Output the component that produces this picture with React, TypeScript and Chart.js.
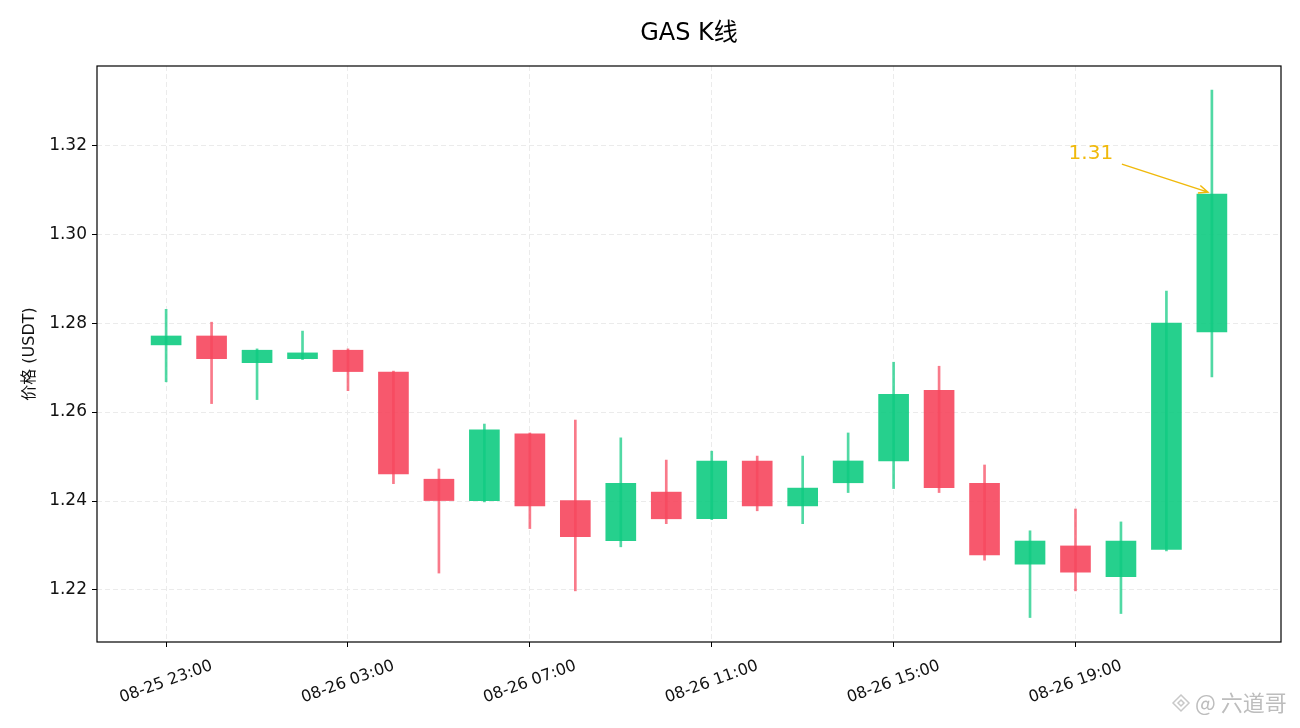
import React, { useEffect, useRef } from "react";
import { Chart, registerables } from "chart.js";

Chart.register(...registerables);

const LABELS = [
  "08-25 23:00", "08-26 00:00", "08-26 01:00", "08-26 02:00", "08-26 03:00", "08-26 04:00",
  "08-26 05:00", "08-26 06:00", "08-26 07:00", "08-26 08:00", "08-26 09:00", "08-26 10:00",
  "08-26 11:00", "08-26 12:00", "08-26 13:00", "08-26 14:00", "08-26 15:00", "08-26 16:00",
  "08-26 17:00", "08-26 18:00", "08-26 19:00", "08-26 20:00", "08-26 21:00", "08-26 22:00",
];
const OPEN = [
  1.2751, 1.2771, 1.2711, 1.2720, 1.2739, 1.2690, 1.2449, 1.2401, 1.2551, 1.2401, 1.2311, 1.2420,
  1.2360, 1.2490, 1.2389, 1.2441, 1.2490, 1.2649, 1.2440, 1.2258, 1.2299, 1.2230, 1.2291, 1.2780,
];
const HIGH = [
  1.2831, 1.2802, 1.2742, 1.2782, 1.2742, 1.2692, 1.2472, 1.2573, 1.2553, 1.2582, 1.2542, 1.2492,
  1.2512, 1.2501, 1.2501, 1.2553, 1.2712, 1.2703, 1.2481, 1.2333, 1.2382, 1.2353, 1.2872, 1.3324,
];
const LOW = [
  1.2668, 1.2619, 1.2628, 1.2718, 1.2648, 1.2439, 1.2238, 1.2398, 1.2338, 1.2198, 1.2297, 1.2349,
  1.2358, 1.2378, 1.2349, 1.2419, 1.2428, 1.2419, 1.2267, 1.2138, 1.2198, 1.2147, 1.2288, 1.2679,
];
const CLOSE = [
  1.2771, 1.2720, 1.2739, 1.2733, 1.2691, 1.2461, 1.2401, 1.2560, 1.2389, 1.2320, 1.2440, 1.2360,
  1.2490, 1.2389, 1.2429, 1.2490, 1.2640, 1.2430, 1.2279, 1.2310, 1.2240, 1.2310, 1.2800, 1.3090,
];
const X_TICKS = [0, 4, 8, 12, 16, 20];
const Y_TICKS = [1.22, 1.24, 1.26, 1.28, 1.30, 1.32];
const X_MIN = -1.52;
const X_MAX = 24.52;
const Y_MIN = 1.2083;
const Y_MAX = 1.3378;

const TITLE = "GAS K线";
const Y_TITLE = "价格 (USDT)";
const WATERMARK = "@ 六道哥";
const ANNOT_INDEX = 23;

const FONT = '"DejaVu Sans", "Noto Sans CJK SC", sans-serif';
const GREEN_BODY = "rgba(14,203,129,0.9)";
const RED_BODY = "rgba(246,70,93,0.9)";
const GREEN_WICK = "rgba(14,203,129,0.72)";
const RED_WICK = "rgba(246,70,93,0.72)";
const GOLD = "#F0B90B";

const overlay = {
  id: "overlay",
  afterDraw(chart: any) {
    const { ctx, chartArea, scales } = chart;
    const { left, right, top, bottom } = chartArea;
    const x = scales.x;
    const y = scales.y;
    ctx.save();
    // frame
    ctx.strokeStyle = "#000";
    ctx.lineWidth = 1.2;
    ctx.setLineDash([]);
    ctx.strokeRect(left, top, right - left, bottom - top);

    // x labels (rotated, centred on tick)
    ctx.font = `16px ${FONT}`;
    ctx.fillStyle = "#111";
    X_TICKS.forEach((i) => {
      const px = x.getPixelForValue(i);
      ctx.save();
      ctx.translate(px, bottom + 40);
      ctx.rotate((-20 * Math.PI) / 180);
      ctx.textAlign = "center";
      ctx.textBaseline = "middle";
      ctx.fillText(LABELS[i], 0, 0);
      ctx.restore();
    });

    // title
    ctx.font = `24px ${FONT}`;
    ctx.fillStyle = "#000";
    ctx.textAlign = "center";
    ctx.textBaseline = "middle";
    ctx.fillText(TITLE, (left + right) / 2, 34);

    // y title
    ctx.save();
    ctx.translate(30, (top + bottom) / 2);
    ctx.rotate(-Math.PI / 2);
    ctx.font = `16px ${FONT}`;
    ctx.fillStyle = "#111";
    ctx.fillText(Y_TITLE, 0, 0);
    ctx.restore();

    // annotation
    const px = x.getPixelForValue(ANNOT_INDEX);
    const py = y.getPixelForValue(CLOSE[ANNOT_INDEX]);
    ctx.font = `20px ${FONT}`;
    ctx.fillStyle = GOLD;
    ctx.fillText(CLOSE[ANNOT_INDEX].toFixed(2), px - 121, py - 40);
    const sx = px - 90, sy = py - 30, ex = px - 4, ey = py - 2;
    ctx.strokeStyle = GOLD;
    ctx.lineWidth = 1.5;
    ctx.beginPath();
    ctx.moveTo(sx, sy);
    ctx.lineTo(ex, ey);
    const ang = Math.atan2(ey - sy, ex - sx);
    const hl = 10;
    ctx.moveTo(ex - hl * Math.cos(ang - 0.4), ey - hl * Math.sin(ang - 0.4));
    ctx.lineTo(ex, ey);
    ctx.lineTo(ex - hl * Math.cos(ang + 0.4), ey - hl * Math.sin(ang + 0.4));
    ctx.stroke();

    // watermark
    const wx = 1181, wy = 703;
    ctx.strokeStyle = "#c8c8c8";
    ctx.lineWidth = 1.5;
    const d = 8;
    ctx.beginPath();
    ctx.moveTo(wx, wy - d); ctx.lineTo(wx + d, wy); ctx.lineTo(wx, wy + d); ctx.lineTo(wx - d, wy); ctx.closePath();
    ctx.stroke();
    ctx.beginPath();
    ctx.moveTo(wx, wy - 3); ctx.lineTo(wx + 3, wy); ctx.lineTo(wx, wy + 3); ctx.lineTo(wx - 3, wy); ctx.closePath();
    ctx.stroke();
    ctx.font = `22px "Noto Sans CJK SC", ${FONT}`;
    ctx.fillStyle = "#bdbdbd";
    ctx.textAlign = "left";
    ctx.fillText(WATERMARK, 1195, wy);
    ctx.restore();
  },
};

export default function App() {
  const ref = useRef<HTMLCanvasElement | null>(null);
  useEffect(() => {
    const canvas = ref.current;
    if (!canvas) return;
    const idx = LABELS.map((_, i) => i);
    const up = idx.map((i) => CLOSE[i] >= OPEN[i]);
    const chart = new Chart(canvas, {
      type: "bar",
      data: {
        datasets: [
          {
            label: "wick",
            data: idx.map((i) => ({ x: i, y: [LOW[i], HIGH[i]] })) as any,
            backgroundColor: up.map((u) => (u ? GREEN_WICK : RED_WICK)),
            borderWidth: 0,
            barThickness: 2,
            grouped: false,
            order: 0,
          },
          {
            label: "body",
            data: idx.map((i) => ({ x: i, y: [OPEN[i], CLOSE[i]] })) as any,
            backgroundColor: up.map((u) => (u ? GREEN_BODY : RED_BODY)),
            borderWidth: 0,
            barThickness: 30,
            grouped: false,
            order: 1,
          },
        ],
      },
      options: {
        animation: false,
        responsive: true,
        maintainAspectRatio: false,
        layout: { padding: { left: 0, right: 19, top: 66, bottom: 0 } },
        plugins: { legend: { display: false }, tooltip: { enabled: false }, title: { display: false } },
        scales: {
          x: {
            type: "linear",
            min: X_MIN,
            max: X_MAX,
            offset: false,
            afterBuildTicks: (s: any) => {
              s.ticks = X_TICKS.map((v) => ({ value: v }));
            },
            afterFit: (s: any) => {
              s.height = 86;
            },
            ticks: { display: false },
            grid: {
              offset: false,
              color: "#ebebeb",
              lineWidth: 1,
              drawTicks: true,
              tickLength: 5,
              tickColor: "#000",
              tickWidth: 1,
            },
            border: { display: false, dash: [5, 3] },
          },
          y: {
            type: "linear",
            min: Y_MIN,
            max: Y_MAX,
            afterBuildTicks: (s: any) => {
              s.ticks = Y_TICKS.map((v) => ({ value: v }));
            },
            afterFit: (s: any) => {
              s.width = 97;
            },
            ticks: {
              callback: (v: any) => Number(v).toFixed(2),
              font: { family: FONT, size: 17 },
              color: "#111",
              padding: 5,
            },
            grid: {
              offset: false,
              color: "#ebebeb",
              lineWidth: 1,
              drawTicks: true,
              tickLength: 5,
              tickColor: "#000",
              tickWidth: 1,
            },
            border: { display: false, dash: [5, 3] },
          },
        },
      },
      plugins: [overlay],
    });
    return () => chart.destroy();
  }, []);
  return (
    <div style={{ position: "fixed", left: 0, top: 0, width: 1300, height: 728, background: "#fff" }}>
      <canvas ref={ref} />
    </div>
  );
}
